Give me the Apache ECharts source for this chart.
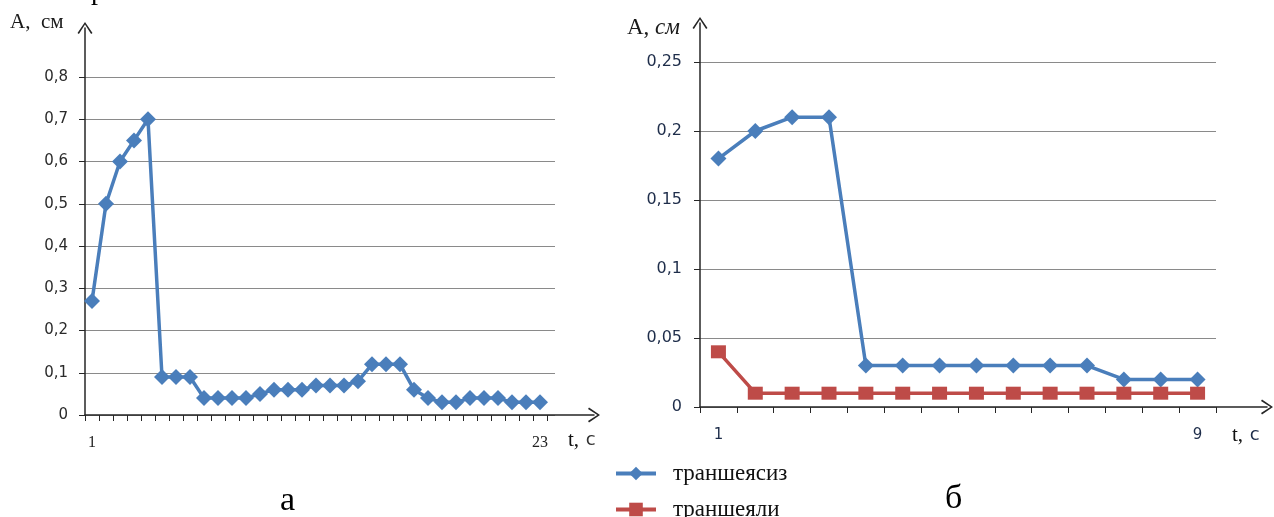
<!DOCTYPE html>
<html>
<head>
<meta charset="utf-8">
<script src="https://cdn.jsdelivr.net/npm/echarts@6/dist/echarts.min.js"></script>
<style>
html,body{margin:0;padding:0;background:#fff;}
#chart{width:1274px;height:517px;}
</style>
</head>
<body>
<div id="chart"></div>
<script>
// ---- data: panel "а" ----
const timeA = [1,2,3,4,5,6,7,8,9,10,11,12,13,14,15,16,17,18,19,20,21,22,23,24,25,26,27,28,29,30,31,32,33];
const valuesA = [0.27,0.50,0.60,0.65,0.70,0.09,0.09,0.09,0.04,0.04,0.04,0.04,0.05,0.06,0.06,0.06,0.07,0.07,0.07,0.08,0.12,0.12,0.12,0.06,0.04,0.03,0.03,0.04,0.04,0.04,0.03,0.03,0.03];
const xTickLabelsA = ['1', '23'];      // first and last category labels
const yMaxA = 0.8, yStepA = 0.1;

// ---- data: panel "б" ----
const timeB = [1,2,3,4,5,6,7,8,9,10,11,12,13,14];
const seriesNames = ['траншеясиз', 'траншеяли'];
const withoutTrench = [0.18,0.20,0.21,0.21,0.03,0.03,0.03,0.03,0.03,0.03,0.03,0.02,0.02,0.02];
const withTrench = [0.04,0.01,0.01,0.01,0.01,0.01,0.01,0.01,0.01,0.01,0.01,0.01,0.01,0.01];
const xTickLabelsB = ['1', '9'];
const yMaxB = 0.25, yStepB = 0.05;

const BLUE = '#4A7EBB', RED = '#BE4B48';
const AXIS = '#262626', GRID = '#8a8a8a';
const SERIF = '"Liberation Serif", "DejaVu Serif", serif';
const SANS = '"DejaVu Sans", sans-serif';
const chevron = 'path://M0,11 L7.5,0 L15,11 L13.6,12 L7.5,2.6 L1.4,12 Z';

const fmt = v => String(+v.toFixed(2)).replace('.', ',');
function edgeLabels(labels, n) {
  return (v, i) => (i === 0 ? labels[0] : (i === n - 1 ? labels[1] : ''));
}

function arrowAxis(gridIndex) {
  return {
    type: 'value', gridIndex, min: 0, max: 1,
    axisLine: { show: true, onZero: false, lineStyle: { color: AXIS, width: 1.5 },
      symbol: ['none', chevron], symbolSize: [15, 12], symbolOffset: [0, 0] },
    axisTick: { show: false }, axisLabel: { show: false }, splitLine: { show: false }
  };
}

const chart = echarts.init(document.getElementById('chart'), null, { renderer: 'canvas' });

const legendText = { fontFamily: SERIF, fontSize: 23, color: '#111', padding: [0, 0, 0, 12] };

const option = {
  backgroundColor: '#fff',
  animation: false,
  grid: [
    { left: 85, top: 28, width: 509, height: 387 },
    { left: 85, top: 77, width: 470, height: 338 },
    { left: 85, top: 77, width: 462, height: 338 },
    { left: 700, top: 23, width: 567, height: 384 },
    { left: 700, top: 62, width: 516, height: 345 }
  ],
  xAxis: [
    arrowAxis(0),
    { type: 'value', gridIndex: 1, show: false, min: 0, max: 1 },
    { type: 'category', gridIndex: 2, data: timeA, boundaryGap: true,
      axisLine: { show: false },
      axisTick: { show: true, interval: 0, length: 6, lineStyle: { color: AXIS } },
      axisLabel: { show: true, interval: 0, margin: 20, formatter: edgeLabels(xTickLabelsA, timeA.length),
        fontFamily: SERIF, fontSize: 16, color: '#222' },
      splitLine: { show: false } },
    arrowAxis(3),
    { type: 'category', gridIndex: 4, data: timeB, boundaryGap: true,
      axisLine: { show: false },
      axisTick: { show: true, interval: 0, length: 6, lineStyle: { color: AXIS } },
      axisLabel: { show: true, interval: 0, margin: 21, formatter: edgeLabels(xTickLabelsB, timeB.length),
        fontFamily: SANS, fontSize: 15, color: '#1e2d4a' },
      splitLine: { show: false } }
  ],
  yAxis: [
    arrowAxis(0),
    { type: 'value', gridIndex: 1, min: 0, max: yMaxA, interval: yStepA,
      axisLine: { show: false },
      axisTick: { show: true, length: 6, lineStyle: { color: AXIS } },
      axisLabel: { margin: 17, formatter: fmt, fontFamily: SANS, fontSize: 15, color: '#2a2a2a' },
      splitLine: { show: true, lineStyle: { color: GRID, width: 1 } } },
    { type: 'value', gridIndex: 2, min: 0, max: yMaxA, show: false },
    arrowAxis(3),
    { type: 'value', gridIndex: 4, min: 0, max: yMaxB, interval: yStepB,
      axisLine: { show: false },
      axisTick: { show: true, length: 6, lineStyle: { color: AXIS } },
      axisLabel: { margin: 18, formatter: fmt, fontFamily: SANS, fontSize: 16, color: '#1e2d4a' },
      splitLine: { show: true, lineStyle: { color: GRID, width: 1 } } }
  ],
  legend: [
    { left: 609, top: 457, itemWidth: 40, itemHeight: 17, data: [seriesNames[0]],
      lineStyle: { width: 4 }, textStyle: legendText },
    { left: 609, top: 493, itemWidth: 40, itemHeight: 17, data: [seriesNames[1]],
      lineStyle: { width: 4 }, textStyle: legendText }
  ],
  series: [
    { name: 'A', type: 'line', xAxisIndex: 2, yAxisIndex: 2, data: valuesA,
      symbol: 'diamond', symbolSize: 16, color: BLUE,
      lineStyle: { color: BLUE, width: 3.5 }, itemStyle: { color: BLUE } },
    { name: seriesNames[0], type: 'line', xAxisIndex: 4, yAxisIndex: 4, data: withoutTrench,
      symbol: 'diamond', symbolSize: 16, color: BLUE,
      lineStyle: { color: BLUE, width: 3.5 }, itemStyle: { color: BLUE } },
    { name: seriesNames[1], type: 'line', xAxisIndex: 4, yAxisIndex: 4, data: withTrench,
      symbol: 'rect', symbolSize: [15, 13], color: RED,
      lineStyle: { color: RED, width: 3.5 }, itemStyle: { color: RED } }
  ],
  graphic: [
    { type: 'text', left: 91, top: -22, z: 10,
      style: { text: 'р', font: '28px ' + SERIF, fill: '#000' } },
    { type: 'text', left: 10, top: 12, z: 10,
      style: { text: 'A,  см', font: '21px ' + SERIF, fill: '#1a1a1a' } },
    { type: 'text', left: 627, top: 16, z: 10,
      style: { text: '{a|A, }{b|см}', fill: '#1a1a1a',
        rich: { a: { fontFamily: SERIF, fontSize: 23, fill: '#1a1a1a' },
                b: { fontFamily: SERIF, fontSize: 23, fontStyle: 'italic', fill: '#1a1a1a' } } } },
    { type: 'text', left: 568, top: 430, z: 10,
      style: { text: '{t|t,}  {c|с}',
        rich: { t: { fontFamily: SERIF, fontSize: 21, fill: '#111' },
                c: { fontFamily: SANS, fontSize: 18, fill: '#333' } } } },
    { type: 'rect', shape: { x: 599, y: 425, width: 14, height: 30 }, z: 11,
      style: { fill: '#fff' } },
    { type: 'text', left: 1232, top: 425, z: 10,
      style: { text: '{t|t,}  {c|с}',
        rich: { t: { fontFamily: SERIF, fontSize: 21, fill: '#111' },
                c: { fontFamily: SANS, fontSize: 18, fill: '#1e2d4a' } } } },
    { type: 'text', left: 280, top: 484, z: 10,
      style: { text: 'а', font: '34px ' + SERIF, fill: '#000' } },
    { type: 'text', left: 945, top: 482, z: 10,
      style: { text: 'б', font: '34px ' + SERIF, fill: '#000' } }
  ]
};
chart.setOption(option);
</script>
</body>
</html>
